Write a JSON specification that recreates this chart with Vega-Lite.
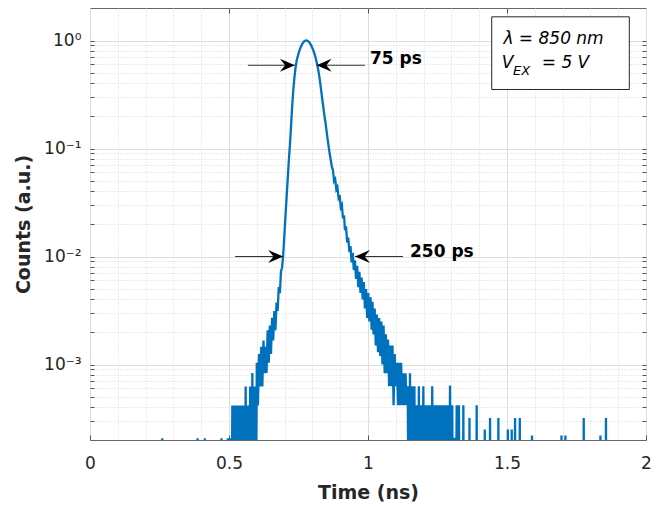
{
"$schema": "https://vega.github.io/schema/vega-lite/v6.json",
"width": 556, "height": 432,
"autosize": {"type": "none"},
"padding": {"left": 90, "top": 8, "right": 15, "bottom": 66},
"background": "white",
"config": {
  "view": {"stroke": "#666666", "strokeWidth": 1},
  "font": "DejaVu Sans",
  "axis": {"labelFont": "DejaVu Sans", "labelFontSize": 17, "labelColor": "#262626", "titleFont": "DejaVu Sans", "titleFontSize": 19, "titleFontWeight": "bold", "titleColor": "#262626", "domain": false, "tickColor": "#555555", "labelOverlap": false, "labelBound": false}
},
"resolve": {"axis": {"x": "independent", "y": "independent"}},
"layer": [
 {
 "encoding": {
  "x": {"field": "t", "type": "quantitative",
    "scale": {"domain": [0, 2], "nice": false, "zero": false},
    "axis": {"orient": "bottom", "title": "Time (ns)", "values": [0,0.1,0.2,0.3,0.4,0.5,0.6,0.7,0.8,0.9,1,1.1,1.2,1.3,1.4,1.5,1.6,1.7,1.8,1.9,2],
      "labelExpr": "datum.value == 0 ? '0' : datum.value == 0.5 ? '0.5' : datum.value == 1 ? '1' : datum.value == 1.5 ? '1.5' : datum.value == 2 ? '2' : ''",
      "labelFlush": false, "tickSize": -5, "labelPadding": 20, "titlePadding": 12,
      "tickOpacity": {"condition": {"test": "indexof([0,0.5,1,1.5,2], datum.value) >= 0", "value": 1}, "value": 0},
      "gridColor": {"condition": {"test": "indexof([0,0.5,1,1.5,2], datum.value) >= 0", "value": "#dedede"}, "value": "#d6d6d6"},
      "gridDash": {"condition": {"test": "indexof([0,0.5,1,1.5,2], datum.value) >= 0", "value": []}, "value": [1, 2]}}},
  "y": {"field": "v", "type": "quantitative",
    "scale": {"type": "log", "domain": [0.0002, 2], "nice": false},
    "axis": {"orient": "left", "title": "Counts (a.u.)", "values": [0.0003,0.0004,0.0005,0.0006,0.0007,0.0008,0.0009,0.001,0.002,0.003,0.004,0.005,0.006,0.007,0.008,0.009,0.01,0.02,0.03,0.04,0.05,0.06,0.07,0.08,0.09,0.1,0.2,0.3,0.4,0.5,0.6,0.7,0.8,0.9,1],
      "labelExpr": "datum.value == 1 ? '10⁰' : datum.value == 0.1 ? '10⁻¹' : datum.value == 0.01 ? '10⁻²' : datum.value == 0.001 ? '10⁻³' : ''",
      "tickSize": -4, "labelPadding": 13, "titlePadding": 10,
      "gridColor": {"condition": {"test": "indexof([1,0.1,0.01,0.001], datum.value) >= 0", "value": "#dedede"}, "value": "#d6d6d6"},
      "gridDash": {"condition": {"test": "indexof([1,0.1,0.01,0.001], datum.value) >= 0", "value": []}, "value": [1, 2]}}}
 },
 "layer": [
  {"data": {"values": [
    {"t":0.256,"v":0.00001},{"t":0.260,"v":0.000208},{"t":0.264,"v":0.00001},
    {"t":0.383,"v":0.00001},{"t":0.387,"v":0.000208},{"t":0.391,"v":0.00001},
    {"t":0.409,"v":0.00001},{"t":0.413,"v":0.000208},{"t":0.417,"v":0.00001},
    {"t":0.469,"v":0.00001},{"t":0.473,"v":0.000208},{"t":0.477,"v":0.00001},
    {"t":0.492,"v":0.00001},{"t":0.496,"v":0.000208},{"t":0.500,"v":0.00001},{"t":0.504,"v":0.000208},
    {"t":0.508,"v":0.00001},{"t":0.512,"v":0.000417},{"t":0.516,"v":0.00001},{"t":0.520,"v":0.000417},
    {"t":0.524,"v":0.00001},{"t":0.528,"v":0.000417},{"t":0.532,"v":0.00001},{"t":0.536,"v":0.000417},
    {"t":0.540,"v":0.00001},{"t":0.544,"v":0.000417},{"t":0.548,"v":0.00001},{"t":0.552,"v":0.000417},
    {"t":0.556,"v":0.00001},{"t":0.560,"v":0.000625},{"t":0.564,"v":0.00001},{"t":0.568,"v":0.000417},
    {"t":0.572,"v":0.00001},{"t":0.576,"v":0.000625},{"t":0.580,"v":0.00001},{"t":0.584,"v":0.000833},
    {"t":0.588,"v":0.00001},{"t":0.592,"v":0.000625},{"t":0.596,"v":0.00001},{"t":0.600,"v":0.00104},
    {"t":0.604,"v":0.000417},{"t":0.608,"v":0.00125},{"t":0.612,"v":0.000625},{"t":0.616,"v":0.00146},
    {"t":0.620,"v":0.000625},{"t":0.624,"v":0.00167},{"t":0.628,"v":0.000833},{"t":0.632,"v":0.00146},
    {"t":0.635,"v":0.000833},{"t":0.639,"v":0.00208},{"t":0.643,"v":0.00104},{"t":0.647,"v":0.00229},
    {"t":0.651,"v":0.00125},{"t":0.655,"v":0.00271},{"t":0.659,"v":0.00167},{"t":0.663,"v":0.00313},
    {"t":0.667,"v":0.00208},{"t":0.671,"v":0.00375},{"t":0.675,"v":0.00313},{"t":0.679,"v":0.00521},
    {"t":0.683,"v":0.00458},{"t":0.687,"v":0.00729},{"t":0.691,"v":0.00792},{"t":0.695,"v":0.0104},
    {"t":0.699,"v":0.0155},{"t":0.703,"v":0.0234},{"t":0.707,"v":0.0347},{"t":0.711,"v":0.0513},
    {"t":0.715,"v":0.0759},{"t":0.719,"v":0.107},{"t":0.723,"v":0.158},{"t":0.727,"v":0.240},
    {"t":0.731,"v":0.339},{"t":0.735,"v":0.447},{"t":0.739,"v":0.550},{"t":0.743,"v":0.643},
    {"t":0.747,"v":0.708},{"t":0.751,"v":0.771},{"t":0.755,"v":0.828},{"t":0.759,"v":0.881},
    {"t":0.763,"v":0.925},{"t":0.767,"v":0.959},{"t":0.771,"v":0.984},{"t":0.775,"v":0.998},
    {"t":0.779,"v":1.0},{"t":0.783,"v":0.991},{"t":0.787,"v":0.973},{"t":0.791,"v":0.944},
    {"t":0.795,"v":0.908},{"t":0.799,"v":0.863},{"t":0.803,"v":0.813},{"t":0.807,"v":0.759},
    {"t":0.811,"v":0.700},{"t":0.815,"v":0.635},{"t":0.819,"v":0.569},{"t":0.823,"v":0.501},
    {"t":0.827,"v":0.427},{"t":0.831,"v":0.355},{"t":0.835,"v":0.292},{"t":0.839,"v":0.245},
    {"t":0.843,"v":0.204},{"t":0.847,"v":0.174},{"t":0.851,"v":0.145},{"t":0.855,"v":0.120},
    {"t":0.859,"v":0.102},{"t":0.863,"v":0.0871},{"t":0.867,"v":0.0759},{"t":0.870,"v":0.0676},
    {"t":0.874,"v":0.0630},{"t":0.878,"v":0.0500},{"t":0.882,"v":0.0520},{"t":0.886,"v":0.0420},
    {"t":0.890,"v":0.0440},{"t":0.894,"v":0.0350},{"t":0.898,"v":0.0370},{"t":0.902,"v":0.0285},
    {"t":0.906,"v":0.0300},{"t":0.910,"v":0.0225},{"t":0.914,"v":0.0240},{"t":0.917,"v":0.0175},
    {"t":0.921,"v":0.0190},{"t":0.925,"v":0.0135},{"t":0.929,"v":0.0150},{"t":0.933,"v":0.0110},
    {"t":0.937,"v":0.0125},{"t":0.941,"v":0.0088},{"t":0.945,"v":0.0108},{"t":0.949,"v":0.0075},
    {"t":0.953,"v":0.0092},{"t":0.957,"v":0.0062},{"t":0.961,"v":0.0082},{"t":0.965,"v":0.0052},
    {"t":0.969,"v":0.0072},{"t":0.973,"v":0.0046},{"t":0.977,"v":0.0064},{"t":0.981,"v":0.0040},
    {"t":0.985,"v":0.0058},{"t":0.989,"v":0.0033},{"t":0.993,"v":0.0050},{"t":0.997,"v":0.0027},
    {"t":1.001,"v":0.0046},{"t":1.005,"v":0.0025},{"t":1.009,"v":0.0042},{"t":1.013,"v":0.0021},
    {"t":1.016,"v":0.0038},{"t":1.020,"v":0.0019},{"t":1.024,"v":0.0033},{"t":1.028,"v":0.0015},
    {"t":1.032,"v":0.0029},{"t":1.036,"v":0.0013},{"t":1.040,"v":0.0027},{"t":1.044,"v":0.0012},
    {"t":1.048,"v":0.0025},{"t":1.052,"v":0.0010},{"t":1.056,"v":0.0023},{"t":1.060,"v":0.00083},
    {"t":1.064,"v":0.0019},{"t":1.068,"v":0.00083},{"t":1.072,"v":0.0017},{"t":1.076,"v":0.00063},
    {"t":1.080,"v":0.0015},{"t":1.084,"v":0.00063},{"t":1.088,"v":0.0015},{"t":1.092,"v":0.00042},
    {"t":1.096,"v":0.00125},{"t":1.100,"v":0.00063},{"t":1.104,"v":0.00104},{"t":1.108,"v":0.00042},
    {"t":1.112,"v":0.00104},{"t":1.115,"v":0.00042},{"t":1.119,"v":0.00104},{"t":1.123,"v":0.00042},
    {"t":1.127,"v":0.00083},{"t":1.131,"v":0.00042},{"t":1.135,"v":0.00083},{"t":1.139,"v":0.00042},
    {"t":1.143,"v":0.00063},{"t":1.147,"v":0.00001},{"t":1.151,"v":0.00083},{"t":1.155,"v":0.00001},
    {"t":1.159,"v":0.00063},{"t":1.163,"v":0.00001},{"t":1.167,"v":0.00063},{"t":1.171,"v":0.00001},
    {"t":1.175,"v":0.00042},{"t":1.179,"v":0.00001},{"t":1.183,"v":0.00063},{"t":1.187,"v":0.00001},
    {"t":1.191,"v":0.00042},{"t":1.195,"v":0.00001},{"t":1.199,"v":0.00063},{"t":1.203,"v":0.00001},
    {"t":1.207,"v":0.00042},{"t":1.211,"v":0.00001},{"t":1.215,"v":0.00042},{"t":1.219,"v":0.00001},
    {"t":1.223,"v":0.00042},{"t":1.227,"v":0.00001},{"t":1.231,"v":0.00063},{"t":1.235,"v":0.00001},
    {"t":1.239,"v":0.00042},{"t":1.243,"v":0.00001},{"t":1.247,"v":0.00042},{"t":1.251,"v":0.00001},
    {"t":1.255,"v":0.00042},{"t":1.259,"v":0.00001},{"t":1.263,"v":0.00042},{"t":1.267,"v":0.00001},
    {"t":1.271,"v":0.00042},{"t":1.275,"v":0.00001},{"t":1.279,"v":0.00042},{"t":1.283,"v":0.00001},
    {"t":1.287,"v":0.00042},{"t":1.291,"v":0.00001},{"t":1.295,"v":0.00064},{"t":1.299,"v":0.00001},
    {"t":1.303,"v":0.00042},{"t":1.307,"v":0.00001},{"t":1.311,"v":0.00021},{"t":1.315,"v":0.00001},
    {"t":1.319,"v":0.00042},{"t":1.323,"v":0.00001},{"t":1.327,"v":0.00042},{"t":1.331,"v":0.00001},
    {"t":1.341,"v":0.00001},{"t":1.343,"v":0.00042},{"t":1.345,"v":0.00001},
    {"t":1.363,"v":0.00001},{"t":1.365,"v":0.00032},{"t":1.367,"v":0.00001},
    {"t":1.389,"v":0.00001},{"t":1.391,"v":0.00042},{"t":1.393,"v":0.00001},
    {"t":1.418,"v":0.00001},{"t":1.420,"v":0.00025},{"t":1.422,"v":0.00001},
    {"t":1.437,"v":0.00001},{"t":1.439,"v":0.00032},{"t":1.441,"v":0.00001},
    {"t":1.467,"v":0.00001},{"t":1.469,"v":0.00032},{"t":1.471,"v":0.00001},
    {"t":1.501,"v":0.00001},{"t":1.503,"v":0.00025},{"t":1.505,"v":0.00001},
    {"t":1.515,"v":0.00001},{"t":1.517,"v":0.00025},{"t":1.519,"v":0.00001},
    {"t":1.527,"v":0.00001},{"t":1.529,"v":0.00032},{"t":1.531,"v":0.00001},
    {"t":1.544,"v":0.00001},{"t":1.546,"v":0.00032},{"t":1.548,"v":0.00001},
    {"t":1.588,"v":0.00001},{"t":1.590,"v":0.00022},{"t":1.592,"v":0.00001},
    {"t":1.694,"v":0.00001},{"t":1.696,"v":0.00022},{"t":1.698,"v":0.00001},
    {"t":1.708,"v":0.00001},{"t":1.710,"v":0.00022},{"t":1.712,"v":0.00001},
    {"t":1.774,"v":0.00001},{"t":1.776,"v":0.00032},{"t":1.778,"v":0.00001},
    {"t":1.834,"v":0.00001},{"t":1.836,"v":0.00022},{"t":1.838,"v":0.00001},
    {"t":1.854,"v":0.00001},{"t":1.856,"v":0.00032},{"t":1.858,"v":0.00001}
  ]},
   "mark": {"type": "line", "color": "#0072BD", "strokeWidth": 2.3, "clip": true, "strokeJoin": "miter"}},
  {"data": {"values": [{"t": 1.445, "t2": 1.940, "v": 1.657, "v2": 0.352}]},
   "mark": {"type": "rect", "fill": "white", "stroke": "#262626", "strokeWidth": 1},
   "encoding": {"x2": {"field": "t2"}, "y2": {"field": "v2"}}},
  {"data": {"values": [
    {"t": 0.568, "t2": 0.737, "v": 0.59},
    {"t": 0.815, "t2": 0.989, "v": 0.59},
    {"t": 0.522, "t2": 0.695, "v": 0.01},
    {"t": 0.953, "t2": 1.126, "v": 0.01}]},
   "mark": {"type": "rule", "color": "#333333", "strokeWidth": 1},
   "encoding": {"x2": {"field": "t2"}}},
  {"data": {"values": [
    {"t": 0.737, "v": 0.59, "dir": "right"},
    {"t": 0.815, "v": 0.59, "dir": "left"},
    {"t": 0.695, "v": 0.01, "dir": "right"},
    {"t": 0.953, "v": 0.01, "dir": "left"}]},
   "mark": {"type": "point", "filled": true, "opacity": 1, "size": 900, "color": "#000000", "strokeWidth": 0},
   "encoding": {"shape": {"field": "dir", "type": "nominal", "legend": null,
     "scale": {"domain": ["right", "left"], "range": ["M0,0L-1,-0.44L-0.65,0L-1,0.44Z", "M0,0L1,-0.44L0.65,0L1,0.44Z"]}}}},
  {"data": {"values": [
    {"t": 1.007, "v": 0.68, "label": "75 ps"},
    {"t": 1.151, "v": 0.0111, "label": "250 ps"}]},
   "mark": {"type": "text", "align": "left", "baseline": "middle", "font": "DejaVu Sans", "fontSize": 17, "fontWeight": "bold", "color": "#000000"},
   "encoding": {"text": {"field": "label"}}},
  {"data": {"values": [
    {"t": 1.487, "v": 1.037, "label": "λ = 850 nm"},
    {"t": 1.481, "v": 0.62, "label": "V"},
    {"t": 1.625, "v": 0.62, "label": "= 5 V"}]},
   "mark": {"type": "text", "align": "left", "baseline": "middle", "font": "DejaVu Sans", "fontSize": 17, "fontStyle": "italic", "color": "#000000"},
   "encoding": {"text": {"field": "label"}}},
  {"data": {"values": [
    {"t": 1.522, "v": 0.52, "label": "EX"}]},
   "mark": {"type": "text", "align": "left", "baseline": "middle", "font": "DejaVu Sans", "fontSize": 13, "fontStyle": "italic", "color": "#000000"},
   "encoding": {"text": {"field": "label"}}}
 ]
 },
 {"data": {"values": [{"t": 1, "v": 0.1}]},
  "mark": {"type": "point", "opacity": 0},
  "encoding": {
   "x": {"field": "t", "type": "quantitative", "scale": {"domain": [0, 2], "nice": false, "zero": false},
     "axis": {"orient": "top", "title": null, "labels": false, "grid": false, "values": [0.5, 1, 1.5], "tickSize": -5}},
   "y": {"field": "v", "type": "quantitative", "scale": {"type": "log", "domain": [0.0002, 2], "nice": false},
     "axis": {"orient": "right", "title": null, "labels": false, "grid": false, "tickSize": -4,
       "values": [0.0003,0.0004,0.0005,0.0006,0.0007,0.0008,0.0009,0.001,0.002,0.003,0.004,0.005,0.006,0.007,0.008,0.009,0.01,0.02,0.03,0.04,0.05,0.06,0.07,0.08,0.09,0.1,0.2,0.3,0.4,0.5,0.6,0.7,0.8,0.9,1]}}
  }}
]
}
